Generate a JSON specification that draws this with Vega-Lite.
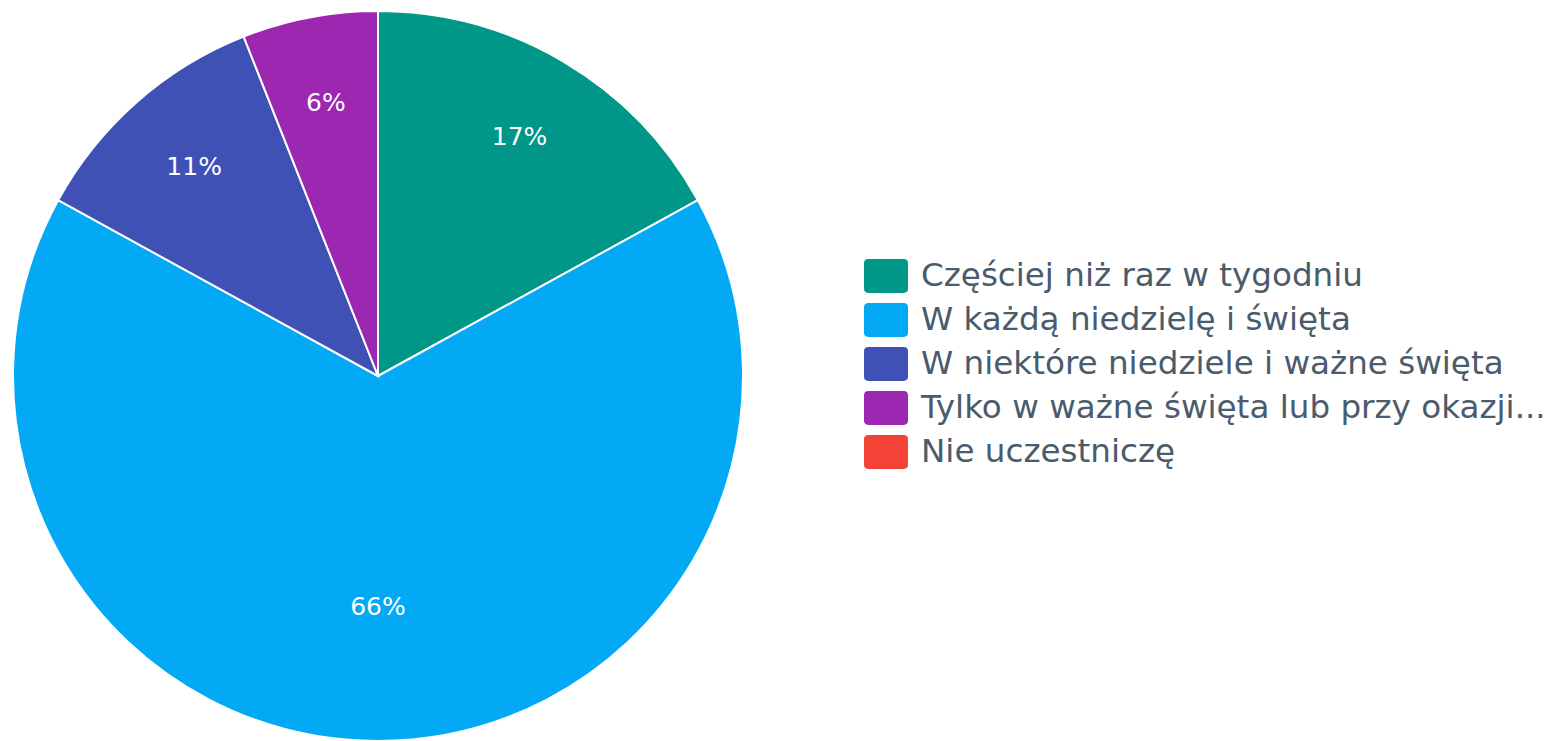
{
  "$schema": "https://vega.github.io/schema/vega-lite/v6.json",
  "width": 756,
  "height": 752,
  "padding": 0,
  "autosize": {"type": "pad"},
  "background": "white",
  "config": {"view": {"stroke": null}, "font": "DejaVu Sans"},
  "data": {
    "values": [
      {"k": 1, "category": "Częściej niż raz w tygodniu", "value": 0.17},
      {"k": 2, "category": "W każdą niedzielę i święta", "value": 0.66},
      {"k": 3, "category": "W niektóre niedziele i ważne święta", "value": 0.11},
      {"k": 4, "category": "Tylko w ważne święta lub przy okazji...", "value": 0.06},
      {"k": 5, "category": "Nie uczestniczę", "value": 0}
    ]
  },
  "encoding": {
    "theta": {"field": "value", "type": "quantitative", "stack": true},
    "order": {"field": "k", "type": "quantitative"}
  },
  "layer": [
    {
      "mark": {"type": "arc", "outerRadius": 365, "stroke": "white", "strokeWidth": 2},
      "encoding": {
        "color": {
          "field": "category",
          "type": "nominal",
          "scale": {
            "domain": ["Częściej niż raz w tygodniu", "W każdą niedzielę i święta", "W niektóre niedziele i ważne święta", "Tylko w ważne święta lub przy okazji...", "Nie uczestniczę"],
            "range": ["#009688", "#03A9F4", "#3F51B5", "#9C27B0", "#F44336"]
          },
          "legend": {
            "title": null,
            "orient": "none",
            "legendX": 864,
            "legendY": 254,
            "padding": 0,
            "symbolType": "M-0.8,-0.77L0.8,-0.77Q1,-0.77 1,-0.57L1,0.57Q1,0.77 0.8,0.77L-0.8,0.77Q-1,0.77 -1,0.57L-1,-0.57Q-1,-0.77 -0.8,-0.77Z",
            "symbolSize": 1936,
            "symbolStrokeWidth": 0,
            "symbolOpacity": 1,
            "labelFont": "DejaVu Sans",
            "labelFontSize": 32.6,
            "labelColor": "#4a5b6c",
            "labelOffset": 13,
            "labelLimit": 800,
            "rowPadding": 5
          }
        }
      }
    },
    {
      "mark": {"type": "text", "radius": 278, "fontSize": 25, "font": "DejaVu Sans", "color": "white"},
      "encoding": {
        "text": {"field": "value", "type": "quantitative", "format": ".0%"},
        "opacity": {"condition": {"test": "datum.value > 0 && datum.value < 0.5", "value": 1}, "value": 0}
      }
    },
    {
      "mark": {"type": "text", "radius": 231, "fontSize": 25, "font": "DejaVu Sans", "color": "white"},
      "encoding": {
        "text": {"field": "value", "type": "quantitative", "format": ".0%"},
        "opacity": {"condition": {"test": "datum.value >= 0.5", "value": 1}, "value": 0}
      }
    }
  ]
}
